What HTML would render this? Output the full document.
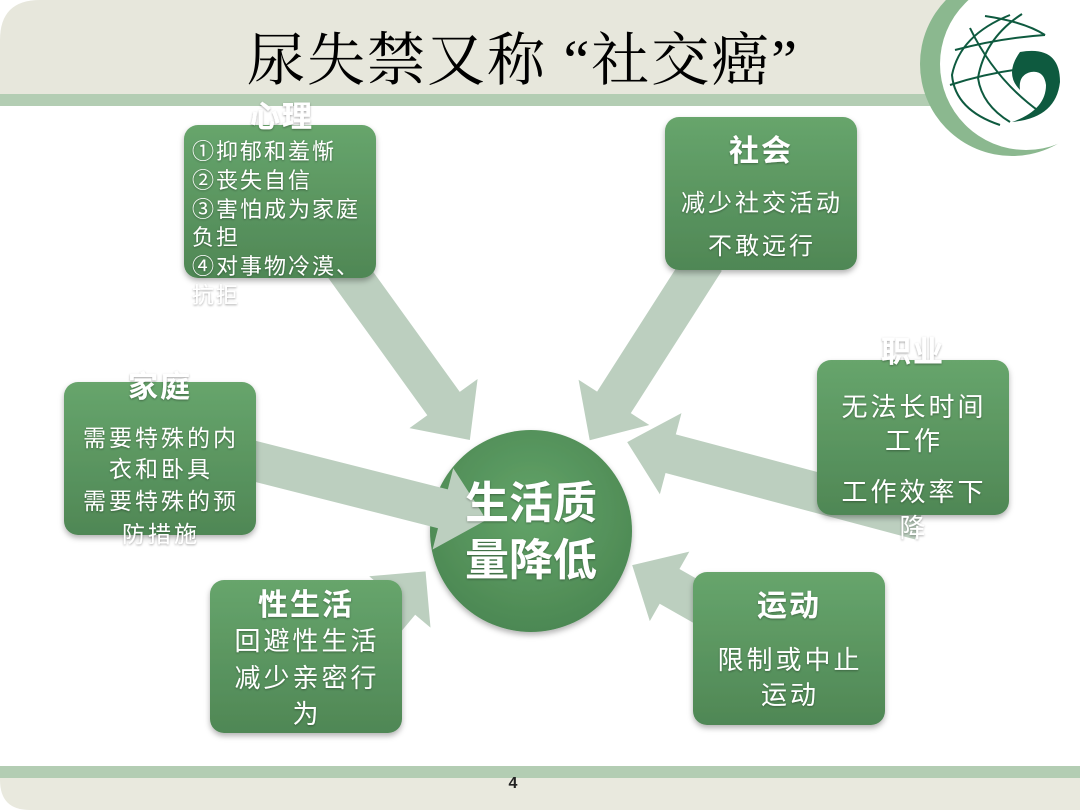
<!DOCTYPE html>
<html><head><meta charset="utf-8"><style>
html,body{margin:0;padding:0;background:#fff;}
svg{display:block;}
text{font-family:"Liberation Sans","Noto Sans CJK SC",sans-serif;fill:#fff;}
.t{font-weight:bold;font-size:30px;letter-spacing:2px;}
</style></head><body>
<svg width="1080" height="810" viewBox="0 0 1080 810" xmlns="http://www.w3.org/2000/svg">
<defs>
<linearGradient id="g" x1="0" y1="0" x2="0" y2="1">
<stop offset="0" stop-color="#67a56c"/><stop offset="1" stop-color="#4f8755"/></linearGradient>
<radialGradient id="cg" cx="0.5" cy="0.4" r="0.6">
<stop offset="0" stop-color="#63a469"/><stop offset="1" stop-color="#4c8853"/></radialGradient>
<filter id="sh" x="-20%" y="-20%" width="140%" height="140%"><feDropShadow dx="0" dy="3" stdDeviation="3" flood-color="#000" flood-opacity="0.3"/></filter>
<filter id="ts"><feDropShadow dx="0" dy="1" stdDeviation="1" flood-color="#000" flood-opacity="0.35"/></filter>
</defs>
<path d="M0 40 Q0 0 40 0 L1080 0 L1080 94 L0 94 Z" fill="#e7e7dc"/>
<rect x="0" y="94" width="1080" height="12" fill="#b3cdb3"/>
<rect x="0" y="766" width="1080" height="12" fill="#b3cdb3"/>
<path d="M0 778 L1080 778 L1080 810 L30 810 Q0 810 0 780 Z" fill="#e9e9de"/>
<text x="513" y="788" font-size="16" font-weight="bold" style="fill:#222" text-anchor="middle">4</text>
<!-- logo -->
<circle cx="1012" cy="64" r="92" fill="#8bb88f"/>
<circle cx="1026" cy="64" r="86" fill="#fff"/>
<rect x="1060" y="0" width="20" height="150" fill="#fff"/>
<g fill="none" stroke="#0e5a3f" stroke-width="2">
<path d="M1010 15 Q960 35 952 75 Q955 110 1000 125"/>
<path d="M1022 14 Q985 38 978 78 Q982 105 1010 122"/>
<path d="M955 50 Q1000 38 1045 35"/>
<path d="M950 85 Q990 72 1030 68"/>
<path d="M970 28 Q995 80 1040 112"/>
<path d="M985 16 Q1025 22 1045 35"/>
</g>
<path d="M1020 52 Q1060 45 1060 82 Q1056 118 1012 122 Q1046 110 1046 85 Q1044 70 1031 72 Q1018 75 1020 90 Q1004 74 1020 52 Z" fill="#0e5a3f"/>
<!-- title -->
<text x="523" y="80" font-size="58" letter-spacing="2" style="fill:#000;font-family:'Liberation Serif','Noto Serif CJK SC',serif" text-anchor="middle">尿失禁又称 “社交癌”</text>
<circle cx="531" cy="531" r="101" fill="url(#cg)" filter="url(#sh)"/>
<g fill="#bccfbf">
<g transform="translate(340,260) rotate(54.2)"><path d="M0 -20 L177 -20 L177 -42 L222 0 L177 42 L177 20 L0 20 Z"/></g>
<g transform="translate(705,260) rotate(122.6)"><path d="M0 -20 L169 -20 L169 -42 L214 0 L169 42 L169 20 L0 20 Z"/></g>
<g transform="translate(920,520) rotate(194.9)"><path d="M0 -20 L258 -20 L258 -42 L303 0 L258 42 L258 20 L0 20 Z"/></g>
<g transform="translate(250,460) rotate(14.2)"><path d="M0 -20 L199 -20 L199 -42 L244 0 L199 42 L199 20 L0 20 Z"/></g>
<g transform="translate(378,628) rotate(-50)"><path d="M0 -20 L34 -20 L34 -40 L74 0 L34 40 L34 20 L0 20 Z"/></g>
<g transform="translate(720,615) rotate(209.6)"><path d="M0 -20 L58 -20 L58 -40 L101 0 L58 40 L58 20 L0 20 Z"/></g>
</g>
<text x="531" y="518" font-size="44" font-weight="bold" text-anchor="middle" filter="url(#ts)">生活质</text>
<text x="531" y="575" font-size="44" font-weight="bold" text-anchor="middle" filter="url(#ts)">量降低</text>
<g filter="url(#sh)" fill="url(#g)">
<rect x="184" y="125" width="192" height="153" rx="14"/>
<rect x="665" y="117" width="192" height="153" rx="14"/>
<rect x="817" y="360" width="192" height="155" rx="14"/>
<rect x="64" y="382" width="192" height="153" rx="14"/>
<rect x="210" y="580" width="192" height="153" rx="14"/>
<rect x="693" y="572" width="192" height="153" rx="14"/>
</g>
<g filter="url(#ts)">
<text class="t" x="282" y="127" text-anchor="middle">心理</text>
<g font-size="22" letter-spacing="2">
<text x="192" y="159">①抑郁和羞惭</text>
<text x="192" y="188">②丧失自信</text>
<text x="192" y="217">③害怕成为家庭</text>
<text x="192" y="245">负担</text>
<text x="192" y="274">④对事物冷漠、</text>
<text x="192" y="303">抗拒</text>
</g>
<text class="t" x="761" y="161" text-anchor="middle">社会</text>
<g font-size="24" letter-spacing="3" text-anchor="middle">
<text x="762" y="211">减少社交活动</text>
<text x="762" y="254">不敢远行</text>
</g>
<text class="t" x="913" y="362" text-anchor="middle">职业</text>
<g font-size="26" letter-spacing="3" text-anchor="middle">
<text x="914" y="416">无法长时间</text>
<text x="914" y="450">工作</text>
<text x="914" y="501">工作效率下</text>
<text x="914" y="537">降</text>
</g>
<text class="t" x="160" y="397" text-anchor="middle">家庭</text>
<g font-size="23" letter-spacing="3" text-anchor="middle">
<text x="161" y="446">需要特殊的内</text>
<text x="161" y="477">衣和卧具</text>
<text x="161" y="509">需要特殊的预</text>
<text x="161" y="542">防措施</text>
</g>
<text class="t" x="306" y="615" text-anchor="middle">性生活</text>
<g font-size="26" letter-spacing="3" text-anchor="middle">
<text x="307" y="650">回避性生活</text>
<text x="307" y="687">减少亲密行</text>
<text x="307" y="723">为</text>
</g>
<text class="t" x="789" y="616" text-anchor="middle">运动</text>
<g font-size="26" letter-spacing="3" text-anchor="middle">
<text x="790" y="669">限制或中止</text>
<text x="790" y="704">运动</text>
</g>
</g>
</svg>
</body></html>
